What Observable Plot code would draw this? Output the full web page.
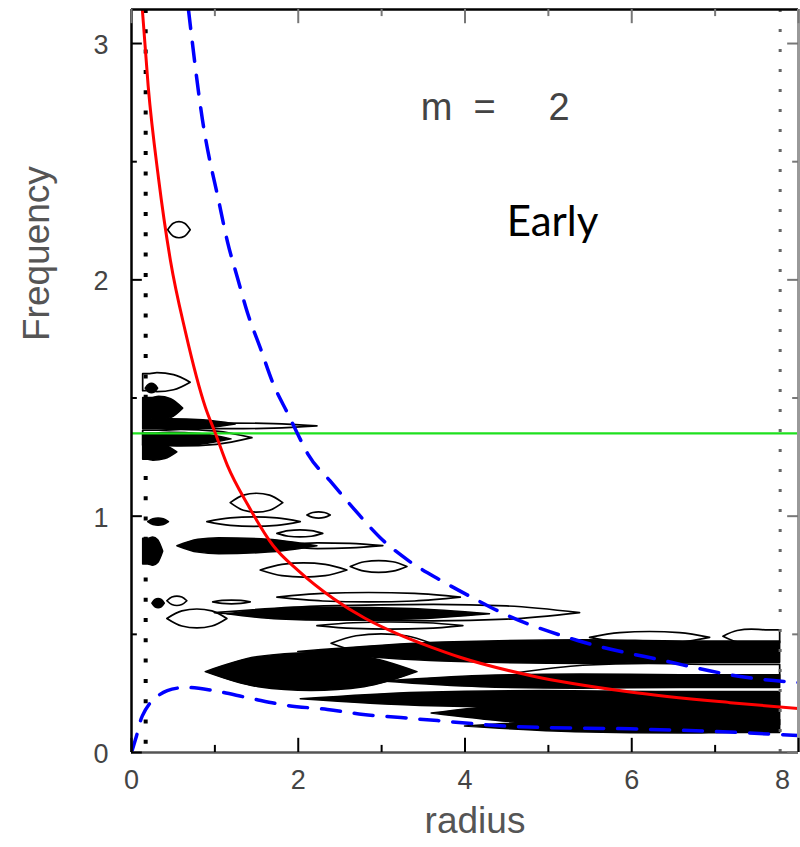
<!DOCTYPE html>
<html><head><meta charset="utf-8">
<script src="https://cdn.jsdelivr.net/npm/d3@7"></script>
<script src="https://cdn.jsdelivr.net/npm/@observablehq/plot@0.6"></script>
<style>body{margin:0;background:#fff} #chart{width:800px;height:847px}</style>
</head><body><div id="chart"></div>
<script>
// axis ticks
const xMajor = [0, 2, 4, 6, 8];
const xMinor = [1, 3, 5, 7];
const yMajor = [0, 1, 2, 3];
const yMinor = [0.5, 1.5, 2.5];
const xMax = 8, yMax = 3.144;

// red curve (angular frequency)
const redR = [0.13, 0.2, 0.324, 0.468, 0.647, 0.887, 1.007, 1.15, 1.4, 1.7, 2.0, 2.42, 2.8, 3.19, 3.585, 3.94, 4.78, 5.98, 7.18, 8.0];
const redF = [3.144, 2.82, 2.43, 2.08, 1.78, 1.46, 1.35, 1.215, 1.045, 0.875, 0.77, 0.652, 0.568, 0.502, 0.447, 0.403, 0.326, 0.256, 0.211, 0.186];

// upper blue dashed curve
const upR = [0.683, 0.85, 1.055, 1.15, 1.27, 1.39, 1.547, 1.70, 1.88, 1.99, 2.12, 2.38, 2.67, 2.98, 3.33, 3.70, 4.08, 4.46, 5.35, 6.38, 7.39, 8.0];
const upF = [3.144, 2.68, 2.319, 2.163, 2.01, 1.862, 1.71, 1.56, 1.43, 1.35, 1.26, 1.15, 1.03, 0.91, 0.81, 0.73, 0.657, 0.588, 0.474, 0.389, 0.317, 0.296];

// lower blue dashed curve
const loR = [0, 0.06, 0.13, 0.25, 0.43, 0.65, 0.98, 1.43, 1.87, 2.35, 2.78, 3.23, 3.67, 4.58, 5.98, 7.0, 8.0];
const loF = [0, 0.07, 0.155, 0.22, 0.262, 0.275, 0.262, 0.229, 0.199, 0.182, 0.161, 0.148, 0.135, 0.11, 0.10, 0.089, 0.072];

// pattern speed (green line)
const patternF = [1.35];
// dotted radial limits
const innerR = [0.17];
const outerR = [7.78];

// contour blobs: radial start/end, centre frequency, half-thickness, peak position, filled?
const blobR0 = [0.44, 0.14, 0.17, 0.14, 0.14, 0.5, 0.14, 0.14, 0.14, 1.19, 0.91, 2.11, 1.75, 0.55, 1.9, 0.14, 1.55, 2.63, 1.75, 0.43, 0.98, 1.15, 1.0, 0.43, 2.23, 5.5, 7.1, 2.0, 2.4, 0.89, 2.03, 4.63, 3.0, 3.6, 4.0, 0.2, 0.25];
const blobR1 = [0.71, 0.71, 0.32, 0.62, 1.25, 2.23, 1.20, 1.45, 0.55, 1.82, 2.03, 2.39, 2.30, 2.23, 3.02, 0.38, 2.59, 3.31, 3.95, 0.67, 1.43, 4.3, 5.38, 1.15, 3.98, 6.94, 7.78, 7.78, 3.6, 3.43, 7.78, 7.78, 7.78, 7.78, 7.78, 0.45, 0.4];
const blobF  = [2.21, 1.565, 1.54, 1.455, 1.388, 1.38, 1.325, 1.33, 1.27, 1.055, 0.975, 1.003, 0.925, 0.873, 0.873, 0.85, 0.77, 0.785, 0.655, 0.64, 0.635, 0.585, 0.59, 0.565, 0.535, 0.485, 0.49, 0.425, 0.46, 0.34, 0.225, 0.335, 0.30, 0.165, 0.11, 0.975, 0.63];
const blobH  = [0.034, 0.04, 0.02, 0.05, 0.022, 0.012, 0.028, 0.035, 0.035, 0.04, 0.02, 0.013, 0.015, 0.034, 0.012, 0.06, 0.03, 0.025, 0.02, 0.02, 0.008, 0.028, 0.035, 0.04, 0.015, 0.025, 0.03, 0.05, 0.04, 0.08, 0.035, 0.04, 0.03, 0.055, 0.03, 0.015, 0.02];
const blobPeak = [0.5, 0.3, 0.5, 0.4, 0.3, 0.4, 0.3, 0.35, 0.3, 0.5, 0.5, 0.5, 0.5, 0.3, 0.3, 0.5, 0.5, 0.5, 0.5, 0.5, 0.5, 0.4, 0.6, 0.5, 0.5, 0.5, 0.5, 0.6, 0.5, 0.5, 0.5, 0.5, 0.5, 0.6, 0.7, 0.5, 0.5];
const blobFill = [0, 0, 1, 1, 1, 0, 1, 0, 1, 0, 0, 0, 0, 1, 0, 1, 0, 0, 0, 0, 0, 1, 0, 0, 0, 0, 0, 1, 0, 1, 1, 0, 1, 1, 1, 1, 1];

const zip = (a, b) => a.map((v, i) => ({r: v, f: b[i]}));

const blobPts = [];
blobR0.forEach((r0, i) => {
  const r1 = blobR1[i], p = blobPeak[i], f = blobF[i], h = blobH[i];
  const s = r0 <= 0.15 ? 0.9 : 0, e = r1 >= 7.7 ? 0.9 : 0;
  const ts = [0, p / 2, p, (p + 1) / 2, 1];
  const ks = [s, Math.max(0.8, s), 1, Math.max(0.8, e), e];
  ts.forEach((t, j) => blobPts.push({id: i, fill: blobFill[i], r: r0 + (r1 - r0) * t, lo: f - h * ks[j], hi: f + h * ks[j]}));
});

const gray = "#444";
const chart = Plot.plot({
  width: 800, height: 847,
  marginLeft: 131, marginRight: 2, marginTop: 9, marginBottom: 95,
  x: {domain: [0, xMax], axis: null},
  y: {domain: [0, yMax], axis: null},
  style: {fontFamily: "Liberation Sans, Arial, sans-serif", background: "#fff"},
  marks: [
    Plot.areaY(blobPts.filter(d => d.fill), {x: "r", y1: "lo", y2: "hi", z: "id", fill: "black", stroke: "black", strokeWidth: 1.5, curve: "monotone-x"}),
    Plot.areaY(blobPts.filter(d => !d.fill), {x: "r", y1: "lo", y2: "hi", z: "id", fill: "none", stroke: "black", strokeWidth: 1.7, curve: "monotone-x"}),
    Plot.ruleX(innerR, {stroke: "black", strokeWidth: 4, strokeDasharray: "4,16.3"}),
    Plot.ruleX(outerR, {stroke: "#666", strokeWidth: 3, strokeDasharray: "3,17"}),
    Plot.ruleY(patternF, {x1: 0, x2: xMax, stroke: "#1ee01e", strokeWidth: 2.2}),
    Plot.line(zip(redR, redF), {x: "r", y: "f", stroke: "#ff0000", strokeWidth: 3, curve: "monotone-x", clip: true}),
    Plot.line(zip(upR, upF), {x: "r", y: "f", stroke: "#0000ff", strokeWidth: 3.5, strokeDasharray: "19,14", curve: "monotone-x", clip: true}),
    Plot.line(zip(loR, loF), {x: "r", y: "f", stroke: "#0000ff", strokeWidth: 3.5, strokeDasharray: "19,14", curve: "catmull-rom", clip: true}),
    // frame
    Plot.ruleX([0], {stroke: "black", strokeWidth: 2.5}),
    Plot.ruleY([yMax], {stroke: "black", strokeWidth: 2.5}),
    Plot.ruleX([xMax], {stroke: "#999", strokeWidth: 3}),
    Plot.ruleY([0], {stroke: "#555", strokeWidth: 2.5}),
    // inward ticks
    Plot.ruleY(yMajor, {x1: 0, x2: 0.13, stroke: "black", strokeWidth: 2}),
    Plot.ruleY(yMinor, {x1: 0, x2: 0.07, stroke: "black", strokeWidth: 2}),
    Plot.ruleY(yMajor, {x1: xMax - 0.13, x2: xMax, stroke: "#777", strokeWidth: 2}),
    Plot.ruleY(yMinor, {x1: xMax - 0.07, x2: xMax, stroke: "#777", strokeWidth: 2}),
    Plot.ruleX(xMajor, {y1: 0, y2: 0.06, stroke: "black", strokeWidth: 2}),
    Plot.ruleX(xMinor, {y1: 0, y2: 0.03, stroke: "black", strokeWidth: 2}),
    Plot.ruleX(xMajor, {y1: yMax - 0.06, y2: yMax, stroke: "#777", strokeWidth: 2}),
    Plot.ruleX(xMinor, {y1: yMax - 0.03, y2: yMax, stroke: "#777", strokeWidth: 2}),
    // tick labels
    Plot.text(yMajor, {y: d => d, frameAnchor: "left", textAnchor: "end", dx: -23, dy: 2, fontSize: 27, fill: gray}),
    Plot.text(xMajor.slice(0, 4), {x: d => d, frameAnchor: "bottom", dy: 36, fontSize: 27, fill: gray}),
    Plot.text(xMajor.slice(4), {x: d => d, frameAnchor: "bottom", dy: 36, dx: -16, fontSize: 27, fill: gray}),
    // axis titles
    Plot.text(["Frequency"], {frameAnchor: "left", dx: -94, dy: -40, rotate: -90, fontSize: 37, fill: "#555"}),
    Plot.text(["radius"], {frameAnchor: "bottom", dy: 80, dx: 10, fontSize: 37, fill: "#555"}),
    // annotations
    Plot.text(["m\u00a0\u00a0=\u00a0\u00a0\u00a0\u00a0\u00a02"], {x: [3.47], y: [2.73], textAnchor: "start", fontSize: 38, fill: gray}),
    Plot.text(["Early"], {x: [5.05], y: [2.243], fontSize: 42, fill: "black", fontFamily: "Lato, Open Sans, sans-serif"})
  ]
});
document.getElementById("chart").appendChild(chart);
</script>
</body></html>
